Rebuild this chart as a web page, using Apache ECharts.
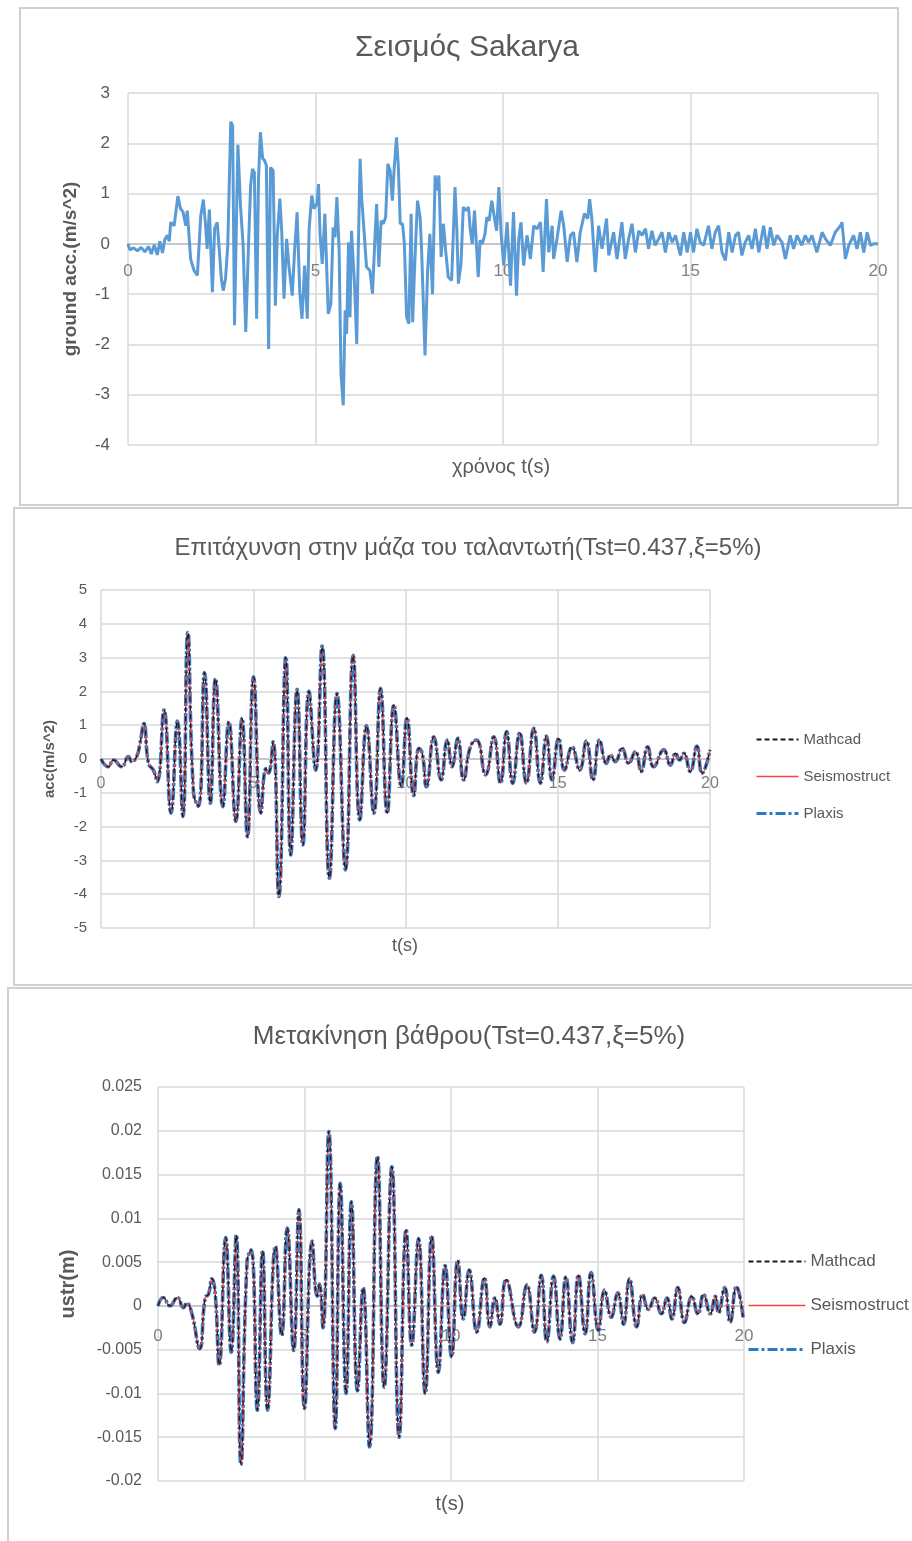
<!DOCTYPE html>
<html><head><meta charset="utf-8">
<script src="https://cdn.jsdelivr.net/npm/echarts@6/dist/echarts.min.js"></script>
<style>html,body{margin:0;padding:0;background:#fff}#c{width:912px;height:1541px}</style>
</head><body><div id="c"></div>
<script>
// ---------- Panel 1: ground acceleration (Sakarya) ----------
const groundT = [0,0.05,0.15,0.25,0.35,0.45,0.55,0.62,0.7,0.78,0.85,0.92,0.98,1.05,1.10,1.14,1.23,1.33,1.40,1.47,1.54,1.58,1.67,1.76,1.85,1.94,2.01,2.07,2.11,2.17,2.25,2.31,2.38,2.42,2.49,2.54,2.60,2.66,2.74,2.79,2.84,2.93,3.00,3.07,3.14,3.21,3.27,3.32,3.37,3.43,3.48,3.53,3.59,3.64,3.69,3.75,3.80,3.87,3.93,3.98,4.05,4.10,4.16,4.23,4.29,4.38,4.44,4.51,4.58,4.64,4.71,4.78,4.83,4.90,4.96,5.04,5.08,5.12,5.18,5.25,5.34,5.41,5.47,5.52,5.57,5.63,5.68,5.74,5.79,5.83,5.88,5.92,5.96,6.04,6.10,6.14,6.19,6.23,6.30,6.36,6.45,6.52,6.59,6.63,6.69,6.75,6.81,6.87,6.93,6.99,7.05,7.10,7.16,7.21,7.26,7.32,7.37,7.43,7.49,7.55,7.59,7.65,7.72,7.79,7.83,7.92,7.99,8.05,8.12,8.19,8.24,8.29,8.35,8.41,8.47,8.54,8.63,8.72,8.77,8.81,8.88,8.94,9.01,9.08,9.13,9.18,9.24,9.29,9.34,9.39,9.45,9.52,9.57,9.63,9.70,9.77,9.83,9.89,9.95,10.02,10.11,10.20,10.28,10.36,10.42,10.48,10.55,10.64,10.73,10.82,10.91,11.00,11.07,11.16,11.22,11.31,11.35,11.44,11.55,11.62,11.71,11.80,11.88,11.97,12.06,12.17,12.26,12.31,12.37,12.46,12.55,12.64,12.76,12.82,12.95,13.04,13.17,13.26,13.35,13.44,13.53,13.62,13.71,13.80,13.88,13.97,14.06,14.15,14.24,14.33,14.42,14.51,14.60,14.73,14.82,14.91,15.00,15.08,15.17,15.26,15.35,15.48,15.57,15.66,15.75,15.84,15.93,16.02,16.11,16.20,16.28,16.37,16.46,16.55,16.64,16.73,16.82,16.95,17.04,17.13,17.22,17.31,17.44,17.53,17.66,17.75,17.84,17.97,18.06,18.15,18.24,18.37,18.51,18.60,18.73,18.86,19.00,19.04,19.13,19.22,19.35,19.44,19.53,19.62,19.71,19.80,19.88,20.00];
const groundAcc = [0,-0.12,-0.08,-0.14,-0.07,-0.16,-0.05,-0.2,-0.02,-0.22,0.05,-0.18,0.08,0.17,0.05,0.43,0.36,0.95,0.70,0.63,0.36,0.66,-0.30,-0.53,-0.63,0.56,0.88,0.36,-0.10,0.68,-0.96,0.30,0.43,0.46,-0.70,-0.93,-0.70,-0.03,2.43,2.35,-1.62,1.97,0.76,-0.03,-1.75,-0.10,1.16,1.49,1.42,-1.49,1.29,2.22,1.70,1.66,1.56,-2.09,1.52,1.46,-1.23,0.17,0.90,0.23,-1.09,0.10,-0.43,-1.03,-0.17,0.63,-0.96,-1.49,-0.43,-1.49,0.30,0.96,0.70,0.80,1.19,0.20,-0.40,0.60,-1.39,-1.19,0.33,0.13,0.93,-0.13,-2.58,-3.21,-1.32,-1.79,0.03,-1.46,0.26,-0.79,-1.99,-0.13,1.69,0.93,0.20,-0.46,-0.53,-0.99,0.20,0.79,-0.46,0.46,0.40,0.53,1.59,1.46,0.86,1.52,2.12,1.52,0.40,0.40,0.00,-1.46,-1.59,0.60,-1.56,-0.33,0.86,0.53,-0.13,-2.22,-0.53,0.20,-1.00,1.36,1.06,1.36,-0.26,0.40,-0.13,-0.66,-0.73,1.13,0.26,-0.79,-0.40,0.73,0.66,0.73,0.26,0.00,0.66,0.00,-0.66,0.07,0.00,0.20,0.53,0.46,0.86,0.53,0.26,1.13,0.20,-0.43,0.43,-0.83,0.63,-1.03,0.10,0.43,-0.43,0.17,-0.30,0.36,0.30,0.43,-0.56,0.89,-0.17,0.36,-0.30,0.10,0.66,0.36,-0.36,0.17,0.23,-0.36,0.23,0.60,0.50,0.89,0.50,-0.56,0.36,-0.10,0.50,-0.23,0.23,-0.30,0.43,-0.30,0.10,0.40,-0.17,0.26,0.17,0.30,-0.10,0.26,-0.03,0.10,0.23,-0.17,0.23,0.03,0.17,-0.23,0.23,-0.17,0.23,-0.17,0.30,0.03,-0.03,0.36,-0.10,0.23,0.36,-0.17,-0.33,0.23,-0.17,0.17,0.23,-0.23,0.03,0.17,-0.10,0.30,-0.17,0.36,-0.10,0.33,-0.03,0.17,0.03,-0.30,0.17,-0.10,0.17,-0.03,0.17,0.03,0.17,-0.17,0.23,0.10,-0.03,0.23,0.36,0.43,-0.30,-0.03,0.17,-0.10,0.23,-0.17,0.23,-0.03,0.00,0.00];

// ---------- Panel 2: oscillator mass acceleration ----------
const massAccT = [0,0.24,0.41,0.68,0.90,1.01,1.17,1.28,1.41,1.56,1.72,1.85,2.07,2.30,2.51,2.69,2.85,3.04,3.20,3.40,3.59,3.76,4.00,4.20,4.43,4.63,4.81,5.01,5.25,5.42,5.50,5.65,5.84,6.07,6.23,6.44,6.63,6.83,7.05,7.26,7.50,7.75,8.03,8.28,8.50,8.72,8.96,9.18,9.40,9.62,9.86,10.05,10.27,10.44,10.55,10.69,10.93,11.17,11.37,11.53,11.72,11.91,12.13,12.33,12.63,12.90,13.12,13.32,13.52,13.75,13.97,14.21,14.43,14.63,14.81,15.03,15.22,15.47,15.72,15.94,16.16,16.37,16.60,16.73,16.89,17.11,17.33,17.55,17.74,17.95,18.15,18.48,18.70,18.87,19.00,19.14,19.35,19.57,19.74,20.00];
const massAcc = [0,-0.23,-0.03,-0.23,0.07,-0.08,0.07,0.46,1.05,-0.13,-0.33,-0.67,1.45,-1.60,1.12,-1.70,3.74,-1.01,-1.40,2.56,-1.31,2.38,-1.41,1.10,-1.85,1.20,-2.30,2.43,-1.60,-0.28,-0.42,0.51,-4.07,3.02,-2.84,2.06,-2.54,2.00,-0.33,3.34,-3.53,1.94,-3.28,3.07,-1.80,0.99,-1.60,2.09,-1.60,1.60,-0.82,1.22,-1.08,0.32,0.17,-0.82,0.66,-0.62,0.56,-0.23,0.61,-0.62,0.36,0.56,-0.47,0.66,-0.72,0.81,-0.72,0.78,-0.72,0.91,-0.72,0.68,-0.62,0.61,-0.33,0.36,-0.33,0.53,-0.62,0.56,-0.13,0.12,-0.08,0.32,-0.13,0.22,-0.37,0.36,-0.23,0.27,-0.18,0.17,-0.03,0.17,-0.37,0.38,-0.42,0.27];

// ---------- Panel 3: pier displacement ----------
const dispT = [0,0.18,0.41,0.66,0.87,0.98,1.15,1.42,1.61,1.72,1.84,1.95,2.09,2.31,2.50,2.67,2.83,3.04,3.18,3.39,3.57,3.74,4.01,4.22,4.41,4.63,4.81,5.00,5.26,5.43,5.51,5.63,5.83,6.05,6.22,6.42,6.60,6.81,7.00,7.22,7.49,7.72,7.98,8.23,8.47,8.66,8.89,9.12,9.34,9.57,9.80,10.02,10.23,10.42,10.62,10.88,11.14,11.33,11.50,11.67,11.88,12.30,12.59,12.85,13.08,13.27,13.50,13.72,13.92,14.15,14.35,14.58,14.78,15.03,15.24,15.47,15.69,15.89,16.09,16.34,16.54,16.74,16.95,17.18,17.37,17.54,17.74,17.97,18.22,18.43,18.62,18.85,19.02,19.13,19.34,19.53,19.74,19.97];
const dispVal = [0,0.00095,0,0.00095,-0.0002,0.0003,-0.0008,-0.0049,0.00095,0.0013,0.0031,0.0015,-0.0068,0.0078,-0.0053,0.0081,-0.0181,0.0051,0.0064,-0.0119,0.0063,-0.0119,0.0068,-0.0034,0.0089,-0.0051,0.011,-0.0117,0.0074,0.0011,0.0025,-0.0025,0.0199,-0.014,0.014,-0.010,0.0119,-0.0097,0.0021,-0.0161,0.0171,-0.0093,0.0159,-0.015,0.0087,-0.0045,0.0077,-0.010,0.008,-0.0076,0.0046,-0.0058,0.0052,-0.0015,0.0041,-0.003,0.0032,-0.0024,0.0009,-0.0021,0.003,-0.0024,0.0024,-0.003,0.0035,-0.0041,0.0034,-0.0038,0.0033,-0.0042,0.0035,-0.0032,0.0038,-0.0028,0.0018,-0.0013,0.0015,-0.0021,0.0031,-0.0024,0.0013,-0.0004,0.0009,-0.0009,0.0009,-0.0015,0.0021,-0.0019,0.0011,-0.0009,0.0013,-0.0009,0.0011,-0.0008,0.0021,-0.0019,0.0022,-0.0013];

const seriesNames = ['Mathcad','Seismostruct','Plaxis'];
const titles = ['Σεισμός Sakarya','Επιτάχυνση στην μάζα του ταλαντωτή(Tst=0.437,ξ=5%)','Μετακίνηση βάθρου(Tst=0.437,ξ=5%)'];
const xNames = ['χρόνος t(s)','t(s)','t(s)'];
const yNames = ['ground acc.(m/s^2)','acc(m/s^2)','ustr(m)'];

function pairs(t, v){ return t.map((x,i)=>[x, v[i]]); }

const FONT = "'Liberation Sans','Noto Sans',sans-serif";
const GRAY = '#595959';
const GRID = '#d9d9d9';
const BLUE = '#2a7ac6', RED = '#ff4040', DARK = '#1a1a1a';

const grids = [
  {left:128, top:93, width:750, height:352},
  {left:101, top:590, width:609, height:338},
  {left:158, top:1087, width:586, height:394}
];
const yCfg = [
  {min:-4, max:3, interval:1, fs:17, gap:48, nameFs:19, lm:18},
  {min:-5, max:5, interval:1, fs:15, gap:44, nameFs:15, lm:14},
  {min:-0.02, max:0.025, interval:0.005, fs:16, gap:80, nameFs:20, lm:16}
];
const xCfg = [
  {fs:17, margin:19},
  {fs:16, margin:17},
  {fs:17, margin:22}
];

const xAxis = [], yAxis = [];
grids.forEach((g,i)=>{
  const yc = yCfg[i];
  // move the horizontal axis (line + labels) up to where y = 0 sits in the grid
  const zeroOffset = -g.height * (0 - yc.min) / (yc.max - yc.min);
  xAxis.push({
    type:'value', gridIndex:i, min:0, max:20, interval:5, position:'bottom', offset:zeroOffset,
    axisLine:{show:true, onZero:false, lineStyle:{color:'#bfbfbf', width:1.5}},
    axisTick:{show:false},
    axisLabel:{color:'#7f7f7f', fontSize:xCfg[i].fs, fontFamily:FONT, margin:xCfg[i].margin},
    splitLine:{show:true, lineStyle:{color:GRID, width:1.5}}
  });
  yAxis.push({
    type:'value', gridIndex:i, min:yc.min, max:yc.max, interval:yc.interval,
    axisLine:{show:false, onZero:false}, axisTick:{show:false},
    axisLabel:{color:GRAY, fontSize:yc.fs, fontFamily:FONT, margin:yc.lm},
    splitLine:{show:true, lineStyle:{color:GRID, width:1.5}},
    name:yNames[i], nameLocation:'middle', nameGap:yc.gap, nameRotate:90,
    nameTextStyle:{color:GRAY, fontSize:yc.nameFs, fontWeight:'bold', fontFamily:FONT}
  });
});

function triple(gi, t, v){
  const data = pairs(t, v);
  return [
    {name:'Plaxis', type:'line', xAxisIndex:gi, yAxisIndex:gi, data:data, showSymbol:false, symbol:'none',
     smooth:0.5, z:2, lineStyle:{color:BLUE, width:3.6, type:[12,2,3,2]}, itemStyle:{color:BLUE}},
    {name:'Seismostruct', type:'line', xAxisIndex:gi, yAxisIndex:gi, data:data, showSymbol:false, symbol:'none',
     smooth:0.5, z:3, lineStyle:{color:RED, width:1.3, type:'solid'}, itemStyle:{color:RED}},
    {name:'Mathcad', type:'line', xAxisIndex:gi, yAxisIndex:gi, data:data, showSymbol:false, symbol:'none',
     smooth:0.5, z:4, lineStyle:{color:DARK, width:1.3, type:[5,4]}, itemStyle:{color:DARK}}
  ];
}

const series = [
  {name:'ground', type:'line', xAxisIndex:0, yAxisIndex:0, data:pairs(groundT, groundAcc),
   showSymbol:false, symbol:'none', lineStyle:{color:'#5b9bd5', width:3}, itemStyle:{color:'#5b9bd5'}}
].concat(triple(1, massAccT, massAcc), triple(2, dispT, dispVal));

const panelRect = (x,y,w,h)=>({type:'rect', silent:true, z:-1, shape:{x:x,y:y,width:w,height:h},
  style:{fill:'none', stroke:'#d0d0d0', lineWidth:2}});
const textEl = (x,y,text,fs)=>({type:'text', silent:true, x:x, y:y,
  style:{text:text, fill:GRAY, font:fs+'px '+FONT, align:'center', verticalAlign:'middle'}});

const legendItems = [
  {name:seriesNames[0], lineStyle:{color:DARK, width:2.2, type:[5,3]}},
  {name:seriesNames[1], lineStyle:{color:RED, width:1.5, type:'solid'}},
  {name:seriesNames[2], lineStyle:{color:BLUE, width:3, type:[10,3,3,3]}}
];
const legendBase = {data:legendItems, orient:'vertical', itemHeight:14,
  itemStyle:{opacity:0, borderWidth:0}};

const option = {
  animation:false,
  backgroundColor:'#fff',
  grid: grids,
  xAxis: xAxis,
  yAxis: yAxis,
  legend: [
    Object.assign({}, legendBase, {left:750, top:727, itemWidth:42, itemGap:22,
      textStyle:{color:GRAY, fontSize:15, fontFamily:FONT}}),
    Object.assign({}, legendBase, {left:742, top:1248, itemWidth:57, itemGap:27,
      textStyle:{color:GRAY, fontSize:17, fontFamily:FONT}})
  ],
  graphic: [
    panelRect(20,8,878,497),
    panelRect(14,508,910,477),
    panelRect(8,988,915,570),
    textEl(467,48,titles[0],30),
    textEl(468,548,titles[1],24),
    textEl(469,1037,titles[2],26),
    textEl(501,467,xNames[0],20),
    textEl(405,946,xNames[1],18),
    textEl(450,1504,xNames[2],20)
  ],
  series: series
};
const chart = echarts.init(document.getElementById('c'));
chart.setOption(option);
</script></body></html>
